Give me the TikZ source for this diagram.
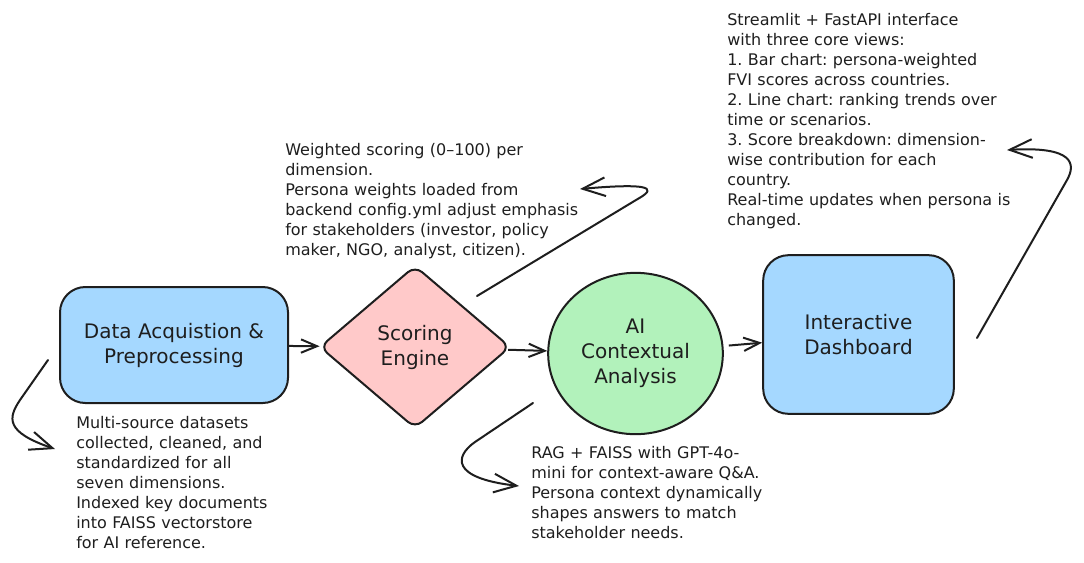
\documentclass[tikz,border=0pt]{standalone}
\usepackage{fontspec}
\setmainfont{DejaVu Sans}
\usetikzlibrary{shapes.geometric,arrows.meta}
\definecolor{ink}{HTML}{1E1E1E}
\definecolor{lblue}{HTML}{A5D8FF}
\definecolor{lpink}{HTML}{FFC9C9}
\definecolor{lgreen}{HTML}{B2F2BB}
\frenchspacing
\tikzset{
  shapebase/.style={draw=ink, line width=1.5pt, align=center, inner sep=0pt,
    font=\fontsize{15pt}{18.75pt}\selectfont, text=ink},
  procbox/.style={shapebase, rectangle, rounded corners=19pt, fill=lblue},
  decide/.style={shapebase, diamond, rounded corners=7pt, fill=lpink},
  bubble/.style={shapebase, ellipse, fill=lgreen},
  note/.style={anchor=base west, align=left, inner sep=0pt, text width=330pt,
    font=\fontsize{12pt}{15pt}\selectfont\frenchspacing, text=ink},
  flow/.style={draw=ink, line width=1.5pt, -{Straight Barb[length=12pt,width=10pt]}},
  callout/.style={draw=ink, line width=1.5pt, line cap=round, line join=round, -{Straight Barb[length=17pt,width=14pt]}}
}
\begin{document}
\begin{tikzpicture}[x=0.75pt,y=-0.75pt]
\useasboundingbox (0,0) rectangle (1084,562);

% main shapes
\node[procbox, minimum width=171pt, minimum height=87pt] (data) at (174,345)
  {Data Acquistion \&\\Preprocessing};
\node[decide, minimum width=143pt, minimum height=122pt] (score) at (415,347)
  {Scoring\\Engine};
\node[bubble, minimum width=131pt, minimum height=121pt] (ai) at (635.5,353.5)
  {AI\\Contextual\\Analysis};
\node[procbox, minimum width=143pt, minimum height=119pt] (dash) at (858.5,334.5)
  {Interactive\\Dashboard};

% flow arrows
\draw[flow] (data) -- (score);
\draw[flow] (score) -- (ai);
\draw[flow, shorten <=4pt] (ai) -- (dash);

% notes
\node[note] (dataNote) at (76,428) {Multi-source datasets\\collected, cleaned, and\\standardized for all\\seven dimensions.\\Indexed key documents\\into FAISS vectorstore\\for AI reference.};
\node[note] (scoreNote) at (285,155) {Weighted scoring (0–100) per\\dimension.\\Persona weights loaded from\\backend config.yml adjust emphasis\\for stakeholders (investor, policy\\maker, NGO, analyst, citizen).};
\node[note] (aiNote) at (531,458) {RAG + FAISS with GPT-4o-\\mini for context-aware Q\&A.\\Persona context dynamically\\shapes answers to match\\stakeholder needs.};
\node[note] (dashNote) at (727,25) {Streamlit + FastAPI interface\\with three core views:\\1. Bar chart: persona-weighted\\FVI scores across countries.\\2. Line chart: ranking trends over\\time or scenarios.\\3. Score breakdown: dimension-\\wise contribution for each\\country.\\Real-time updates when persona is\\changed.};

% callout arrows
\coordinate (dataOut) at (48,360);
\coordinate (dataIn) at (55,449);
\coordinate (scoreOut) at (477,296);
\coordinate (scoreIn) at (580,189);
\coordinate (aiOut) at (533,403);
\coordinate (aiIn) at (519,486);
\coordinate (dashOut) at (977,338);
\coordinate (dashIn) at (1007,150);

\draw[callout] (dataOut) -- (20,400) .. controls (8,418) and (5,432) .. (dataIn);
\draw[callout] (scoreOut) -- (636,200) .. controls (648,193) and (670,181) .. (scoreIn);
\draw[callout] (aiOut) -- (475,442) .. controls (455,456) and (450,478) .. (aiIn);
\draw[callout] (dashOut) -- (1067,180) .. controls (1076,164) and (1074,146) .. (dashIn);
\end{tikzpicture}
\end{document}
